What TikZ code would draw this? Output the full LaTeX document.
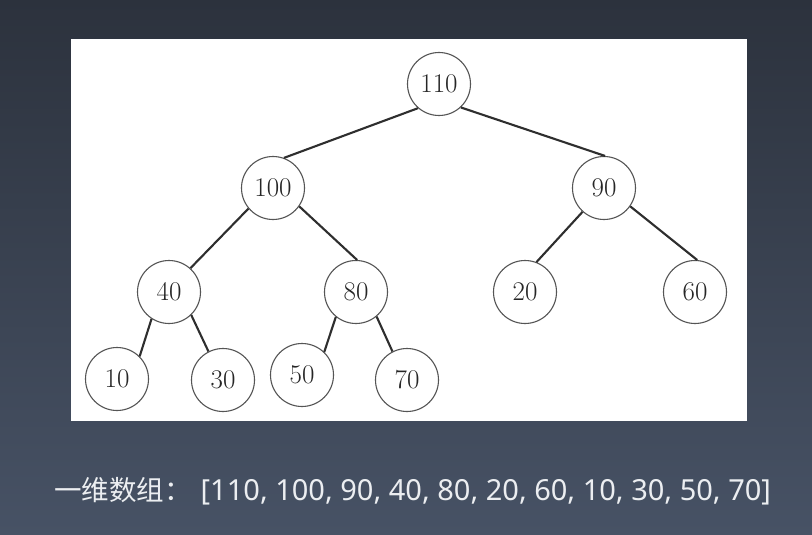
\documentclass[tikz,border=0pt]{standalone}
\usepackage{fontspec}
\newfontfamily\cjk{Noto Sans CJK SC}
\newfontfamily\latincap{Noto Sans}
\definecolor{bgtop}{HTML}{2C323D}
\definecolor{bgbot}{HTML}{475265}
\definecolor{edgec}{HTML}{2E2E2E}
\definecolor{circc}{HTML}{555555}
\definecolor{capc}{HTML}{ECEEF1}
\begin{document}
\begin{tikzpicture}[x=1pt,y=-1pt,
  hnode/.style={circle,draw=circc,line width=1.1pt,fill=white,minimum size=63pt,inner sep=0pt,font=\fontsize{27}{29}\selectfont,text=black!85},
  hedge/.style={draw=edgec,line width=2.1pt}]
\useasboundingbox (0,0) rectangle (812,535);
\shade[top color=bgtop,bottom color=bgbot] (0,0) rectangle (812,535);
\fill[white] (71,39) rectangle (747,421);
\node[hnode] (n110) at (439,84) {110};
\node[hnode] (n100) at (273,188) {100};
\node[hnode] (n90) at (604,188) {90};
\node[hnode] (n40) at (169,292) {40};
\node[hnode] (n80) at (356,292) {80};
\node[hnode] (n20) at (525,292) {20};
\node[hnode] (n60) at (695,292) {60};
\node[hnode] (n10) at (117,379) {10};
\node[hnode] (n30) at (223,380) {30};
\node[hnode] (n50) at (302,375) {50};
\node[hnode] (n70) at (407,380) {70};
\path[hedge] (n110.229) -- (n100.70);
\path[hedge] (n110.313) -- (n90.88);
\path[hedge] (n100.220) -- (n40.48);
\path[hedge] (n100.325) -- (n80.88);
\path[hedge] (n90.228) -- (n20.69);
\path[hedge] (n90.325) -- (n60.86);
\path[hedge] (n40.237) -- (n10.45);
\path[hedge] (n40.314) -- (n30.117);
\path[hedge] (n80.231) -- (n50.46);
\path[hedge] (n80.310) -- (n70.117);
\node[text=capc,inner sep=0pt,anchor=base west] (cap) at (54,500) {{\cjk\fontsize{27.5}{30}\selectfont 一维数组：}\hspace{9pt}{\latincap\fontsize{29}{31}\selectfont [110, 100, 90, 40, 80, 20, 60, 10, 30, 50, 70]}};
\end{tikzpicture}
\end{document}
